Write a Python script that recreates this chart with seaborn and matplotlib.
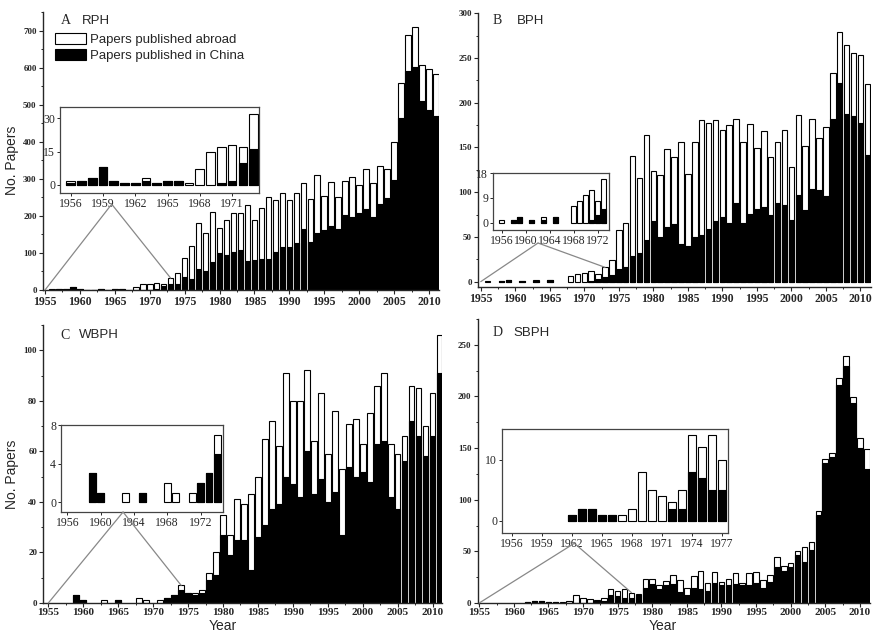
import numpy as np
import pandas as pd
import matplotlib
matplotlib.use("Agg")
import matplotlib.pyplot as plt
from matplotlib.patches import Patch, ConnectionPatch
from matplotlib.ticker import AutoMinorLocator
import seaborn as sns

# Number of papers per year, 1955-2011 (total = abroad + China)
years = list(range(1955, 2012))

rph_china = [0, 1, 2, 3, 8, 2, 1, 1, 2, 1, 2, 2, 0, 0, 0, 1, 2, 10, 16,
             17, 36, 29, 56, 52, 76, 101, 94, 102, 108, 78, 81, 83, 83, 102, 115, 115, 126, 164, 129,
             155, 162, 173, 164, 203, 198, 207, 218, 196, 232, 247, 297, 464, 592, 601, 509, 486, 470]
rph_total = [0, 2, 2, 3, 8, 2, 1, 1, 3, 1, 2, 2, 1, 7, 15, 17, 18, 17, 32,
             45, 87, 119, 182, 153, 211, 168, 189, 209, 209, 230, 189, 221, 250, 243, 261, 243, 263, 288, 246,
             309, 254, 291, 252, 293, 304, 284, 326, 288, 335, 327, 398, 559, 687, 709, 606, 596, 584]

bph_china = [0, 0, 0, 1, 2, 0, 1, 0, 1, 0, 2, 0, 0, 0, 0, 0, 1, 3, 5,
             7, 14, 16, 29, 32, 47, 68, 50, 61, 64, 42, 40, 50, 52, 59, 68, 72, 65, 88, 65,
             76, 81, 83, 75, 88, 86, 69, 97, 80, 104, 102, 96, 182, 222, 187, 185, 177, 142]
bph_total = [0, 1, 0, 1, 2, 0, 1, 0, 2, 0, 2, 0, 0, 6, 8, 10, 12, 8, 16,
             24, 58, 65, 140, 116, 164, 124, 119, 148, 139, 156, 120, 156, 181, 177, 181, 169, 175, 182, 156,
             176, 149, 168, 139, 156, 169, 128, 186, 152, 182, 160, 173, 233, 279, 264, 256, 253, 221]

wbph_china = [0, 0, 0, 0, 3, 1, 0, 0, 0, 0, 1, 0, 0, 0, 0, 0, 0, 2, 3,
              5, 4, 3, 4, 9, 11, 27, 19, 25, 25, 13, 26, 31, 37, 39, 50, 47, 42, 60, 43,
              49, 40, 44, 27, 54, 50, 52, 48, 63, 64, 42, 37, 56, 72, 66, 58, 66, 91]
wbph_total = [0, 0, 0, 0, 3, 1, 0, 0, 1, 0, 1, 0, 0, 2, 1, 0, 1, 2, 3,
              7, 4, 4, 5, 12, 20, 35, 27, 41, 39, 43, 50, 65, 72, 62, 91, 80, 80, 92, 64,
              83, 59, 76, 53, 71, 73, 63, 75, 86, 91, 63, 59, 66, 86, 85, 70, 83, 106]

sbph_china = [0, 0, 0, 0, 0, 0, 0, 1, 2, 2, 1, 1, 0, 0, 0, 0, 0, 2, 2,
              8, 7, 5, 5, 8, 15, 18, 14, 17, 18, 11, 8, 15, 14, 12, 19, 17, 17, 18, 17,
              17, 19, 15, 20, 35, 31, 35, 46, 40, 51, 85, 136, 141, 211, 229, 194, 150, 130]
sbph_total = [0, 0, 0, 0, 0, 0, 0, 1, 2, 2, 1, 1, 1, 2, 8, 5, 4, 3, 5,
              14, 12, 14, 10, 9, 23, 23, 17, 21, 27, 22, 15, 26, 31, 19, 30, 20, 23, 29, 19,
              29, 30, 22, 27, 45, 36, 39, 50, 54, 59, 89, 139, 145, 218, 239, 199, 160, 149]

sns.set_style("ticks")
plt.rcParams["font.family"] = ["Liberation Sans", "DejaVu Sans"]

SERIF = "Liberation Serif"
fig = plt.figure(figsize=(8.74, 6.34), dpi=100)


def bars(ax, df):
    sns.barplot(data=df, x="year", y="total", native_scale=True, color="white",
                edgecolor="black", linewidth=0.8, saturation=1, width=0.8,
                errorbar=None, ax=ax)
    sns.barplot(data=df, x="year", y="china", native_scale=True, color="black",
                edgecolor="black", linewidth=0.8, saturation=1, width=0.8,
                errorbar=None, ax=ax)
    # empty years show no bar at all
    for p in ax.patches:
        if p.get_height() == 0:
            p.set_visible(False)
    ax.set_xlabel("")
    ax.set_ylabel("")


panels = [
    dict(china=rph_china, total=rph_total, rect=[0.0491, 0.5426, 0.4537, 0.4385],
         xlim=(1954.7, 2011.5), ylim=(0, 750), ystep=100,
         irect=[0.0686, 0.6956, 0.2277, 0.1356], ixlim=(1955, 1973.5), iylim=(-3.6, 35),
         iyt=[0, 15, 30], ixt=list(range(1956, 1972, 3)), last=1973, apex=(0.26, -0.13),
         letter="A", name="RPH", lpos=(61, 21), npos=(82, 21)),
    dict(china=bph_china, total=bph_total, rect=[0.5473, 0.5473, 0.449, 0.432],
         xlim=(1954.65, 2011.5), ylim=(-6, 300), ystep=50,
         irect=[0.5641, 0.6372, 0.1327, 0.0899], ixlim=(1954.55, 1973.9), iylim=(-2.6, 18),
         iyt=[0, 9, 18], ixt=list(range(1956, 1973, 4)), last=1973, apex=(0.388, -0.228),
         letter="B", name="BPH", lpos=(493, 21), npos=(517, 21)),
    dict(china=wbph_china, total=wbph_total, rect=[0.0497, 0.0489, 0.4565, 0.4385],
         xlim=(1954.3, 2011.4), ylim=(0, 110), ystep=20,
         irect=[0.0698, 0.1924, 0.1854, 0.1372], ixlim=(1955.24, 1974.7), iylim=(-1, 8),
         iyt=[0, 4, 8], ixt=list(range(1956, 1973, 4)), last=1974, apex=(0.383, 0.0),
         letter="C", name="WBPH", lpos=(60, 335), npos=(79, 335)),
    dict(china=sbph_china, total=sbph_total, rect=[0.5465, 0.0489, 0.4492, 0.448],
         xlim=(1954.77, 2011.5), ylim=(0, 275), ystep=50,
         irect=[0.5744, 0.1593, 0.2586, 0.164], ixlim=(1955, 1977.6), iylim=(-2, 15),
         iyt=[0, 10], ixt=list(range(1956, 1978, 3)), last=1977, apex=(0.32, -0.099),
         letter="D", name="SBPH", lpos=(493, 333), npos=(513, 333)),
]

W, H = 874, 634
for pn in panels:
    df = pd.DataFrame({"year": years, "china": pn["china"], "total": pn["total"]})
    bottom_row = pn["letter"] in ("C", "D")

    ax = fig.add_axes(pn["rect"])
    bars(ax, df)
    ax.set_xlim(*pn["xlim"])
    ax.set_xticks(range(1955, 2011, 5))
    ax.set_yticks(np.arange(0, pn["ylim"][1] + 1, pn["ystep"]))
    ax.xaxis.set_minor_locator(AutoMinorLocator(2))
    ax.yaxis.set_minor_locator(AutoMinorLocator(2))
    ax.set_ylim(*pn["ylim"])
    sns.despine(ax=ax)
    for s in ("left", "bottom"):
        ax.spines[s].set_linewidth(1.0)
    ax.tick_params(which="major", length=3, width=0.8, pad=1.5)
    ax.tick_params(which="minor", length=1.5, width=0.7)
    if bottom_row:
        ax.tick_params(axis="x", which="major", pad=0.5)
    for lab in ax.get_xticklabels():
        lab.set_fontfamily(SERIF)
        lab.set_fontsize(8 if bottom_row else 8.5)
        lab.set_fontweight("bold")
    for lab in ax.get_yticklabels():
        lab.set_fontfamily(SERIF)
        lab.set_fontsize(6.5)
        lab.set_fontweight("bold")

    # inset zoom of the early years
    ins = fig.add_axes(pn["irect"])
    sub = df[(df["year"] >= 1956) & (df["year"] <= pn["last"])]
    bars(ins, sub)
    ins.set_xlim(*pn["ixlim"])
    ins.set_yticks(pn["iyt"])
    ins.set_xticks(pn["ixt"])
    ins.set_ylim(*pn["iylim"])
    for s in ins.spines.values():
        s.set_color("#444444")
        s.set_linewidth(0.9)
    ins.tick_params(length=2, width=0.7, pad=1.5)
    for lab in ins.get_xticklabels() + ins.get_yticklabels():
        lab.set_fontfamily(SERIF)
        lab.set_fontsize(8.5)

    last_total = df.loc[df["year"] == pn["last"], "total"].iloc[0]
    for pt in [(1955, 0), (pn["last"], last_total)]:
        con = ConnectionPatch(xyA=pn["apex"], coordsA=ins.transAxes,
                              xyB=pt, coordsB=ax.transData,
                              color="#888888", linewidth=0.9)
        fig.add_artist(con)

    lx, ly = pn["lpos"]
    fig.text(lx / W, 1 - ly / H, pn["letter"], family=SERIF, fontsize=10,
             ha="left", va="center")
    nx, ny = pn["npos"]
    fig.text(nx / W, 1 - ny / H, pn["name"], fontsize=9.5, ha="left", va="center")

    if pn["letter"] == "A":
        handles = [Patch(facecolor="white", edgecolor="black", linewidth=0.8,
                         label="Papers published abroad"),
                   Patch(facecolor="black", edgecolor="black", linewidth=0.8,
                         label="Papers published in China")]
        ax.legend(handles=handles, loc="upper left", bbox_to_anchor=(0.03, 0.925),
                  frameon=False, fontsize=9.5, handlelength=2.4, handleheight=0.9,
                  handletextpad=0.3, labelspacing=0.25, borderpad=0, borderaxespad=0)

fig.text(12 / W, 1 - 160 / H, "No. Papers", rotation=90, fontsize=10, ha="center", va="center")
fig.text(12 / W, 1 - 474 / H, "No. Papers", rotation=90, fontsize=10, ha="center", va="center")
fig.text(223 / W, 0.5 / H, "Year", fontsize=10, ha="center", va="bottom")
fig.text(663 / W, 0.5 / H, "Year", fontsize=10, ha="center", va="bottom")

fig.savefig("out.png", dpi=100)
